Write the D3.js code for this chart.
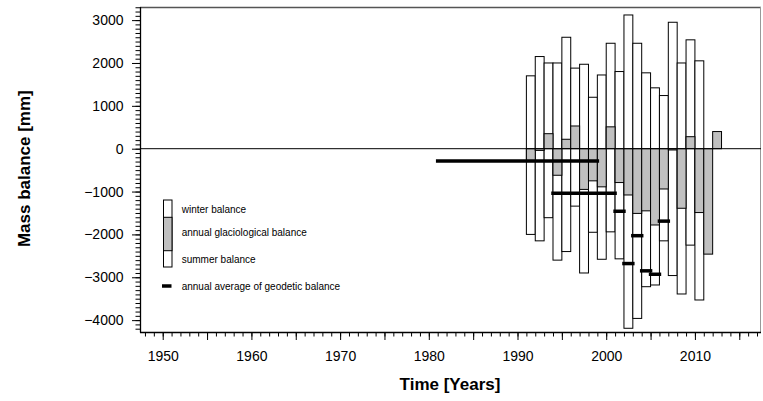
<!DOCTYPE html>
<html>
<head>
<meta charset="utf-8">
<script src="https://cdn.jsdelivr.net/npm/d3@7/dist/d3.min.js"></script>
<style>
  html, body { margin: 0; padding: 0; background: #fff; }
  svg { display: block; font-family: "Liberation Sans", Arial, sans-serif; }
</style>
</head>
<body>
<svg id="chart" width="763" height="401"></svg>
<script>
// ---- data ----
const years = [1991,1992,1993,1994,1995,1996,1997,1998,1999,2000,2001,2002,2003,2004,2005,2006,2007,2008,2009,2010,2011,2012];
const winterBalance = [1700,2150,2000,2000,2600,1880,1970,1200,1720,2460,1800,3120,2460,1770,1420,1240,2950,2000,2540,2050,null,null];
const summerBalance = [-2000,-2150,-1610,-2600,-2400,-1340,-2900,-1950,-2580,-1940,-2570,-4190,-3960,-3220,-3180,-2150,-2960,-3390,-2250,-3530,null,null];
const annualBalance = [-300,-40,350,-620,220,530,-950,-750,-890,510,-790,-1080,-1510,-1450,-1780,-940,-30,-1390,280,-1490,-2460,400];
const geodeticStart = [1981,1994,2001,2002,2003,2004,2005,2006];
const geodeticEnd   = [1999,2001,2002,2003,2004,2005,2006,2007];
const geodeticValue = [-290,-1040,-1460,-2680,-2030,-2850,-2930,-1690];
const yTickValues = [-4000,-3000,-2000,-1000,0,1000,2000,3000];
const xLabelValues = [1950,1960,1970,1980,1990,2000,2010];
const legendLabels = ["winter balance","annual glaciological balance","summer balance","annual average of geodetic balance"];

const svg = d3.select("#chart");
const L = 140, R = 761, T = 7, B = 332;

const x = d3.scaleLinear().domain([1947.44, 2017.45]).range([L, R]);
const y = d3.scaleLinear().domain([-4277, 3306]).range([B, T]);

svg.append("rect").attr("width", 763).attr("height", 401).attr("fill", "#fff");

// frame top & right
svg.append("line").attr("x1", L).attr("x2", R).attr("y1", T + 0.5).attr("y2", T + 0.5)
  .attr("stroke", "#555").attr("stroke-width", 1.3);
svg.append("line").attr("x1", R - 0.5).attr("x2", R - 0.5).attr("y1", T).attr("y2", B)
  .attr("stroke", "#999").attr("stroke-width", 1);

const rows = years.map((yr, i) => ({yr, w: winterBalance[i], s: summerBalance[i], a: annualBalance[i]}));

// white bars (summer..winter)
svg.append("g").selectAll("rect").data(rows.filter(d => d.w !== null)).join("rect")
  .attr("x", d => x(d.yr))
  .attr("width", d => x(d.yr + 1) - x(d.yr))
  .attr("y", d => y(d.w))
  .attr("height", d => y(d.s) - y(d.w))
  .attr("fill", "#fff").attr("stroke", "#000").attr("stroke-width", 1);

// gray annual bars
svg.append("g").selectAll("rect").data(rows).join("rect")
  .attr("x", d => x(d.yr))
  .attr("width", d => x(d.yr + 1) - x(d.yr))
  .attr("y", d => y(Math.max(0, d.a)))
  .attr("height", d => Math.abs(y(d.a) - y(0)))
  .attr("fill", "#c0c0c0").attr("stroke", "#000").attr("stroke-width", 1);

// zero line
svg.append("line").attr("x1", L).attr("x2", R).attr("y1", y(0)).attr("y2", y(0))
  .attr("stroke", "#000").attr("stroke-width", 1);

// geodetic lines
svg.append("g").selectAll("line").data(geodeticValue.map((v, i) => ({v, s: geodeticStart[i], e: geodeticEnd[i]}))).join("line")
  .attr("x1", d => x(d.s)).attr("x2", d => x(d.e))
  .attr("y1", d => y(d.v)).attr("y2", d => y(d.v))
  .attr("stroke", "#000").attr("stroke-width", 3.5).attr("stroke-linecap", "square");

// y axis
const yMinor = d3.range(-4200, 3301, 100);
svg.append("g").attr("transform", `translate(${L},0)`)
  .call(d3.axisLeft(y).tickValues(yMinor).tickSize(4.5).tickSizeOuter(0).tickFormat(""))
  .call(g => g.select(".domain").remove());
const yAx = svg.append("g").attr("transform", `translate(${L},0)`)
  .call(d3.axisLeft(y).tickValues(yTickValues).tickSize(8).tickSizeOuter(0).tickPadding(8.5).tickFormat(d3.format("d")))
  .call(g => g.select(".domain").remove());
yAx.selectAll("text").attr("font-size", 14).attr("font-family", "Liberation Sans, Arial, sans-serif").attr("fill", "#000");

// x axis
const xMinor = d3.range(1948, 2018, 1);
const xMajor = d3.range(1950, 2018, 5);
svg.append("g").attr("transform", `translate(0,${B})`)
  .call(d3.axisBottom(x).tickValues(xMinor).tickSize(4.5).tickSizeOuter(0).tickFormat(""))
  .call(g => g.select(".domain").remove());
svg.append("g").attr("transform", `translate(0,${B})`)
  .call(d3.axisBottom(x).tickValues(xMajor).tickSize(8).tickSizeOuter(0).tickFormat(""))
  .call(g => g.select(".domain").remove());
const xAx = svg.append("g").attr("transform", `translate(0,${B})`)
  .call(d3.axisBottom(x).tickValues(xLabelValues).tickSize(0).tickSizeOuter(0).tickPadding(19).tickFormat(d3.format("d")))
  .call(g => g.select(".domain").remove());
xAx.selectAll("text").attr("font-size", 14).attr("font-family", "Liberation Sans, Arial, sans-serif").attr("fill", "#000");

// axis lines
svg.append("line").attr("x1", L + 0.5).attr("x2", L + 0.5).attr("y1", T).attr("y2", B + 0.5)
  .attr("stroke", "#000").attr("stroke-width", 1.3);
svg.append("line").attr("x1", L).attr("x2", R).attr("y1", B + 0.5).attr("y2", B + 0.5)
  .attr("stroke", "#000").attr("stroke-width", 1.3);

// titles
svg.append("text").attr("x", 450).attr("y", 390).attr("text-anchor", "middle")
  .attr("font-size", 17).attr("font-weight", "bold").text("Time [Years]");
svg.append("text").attr("transform", "translate(29.5,168.7) rotate(-90)").attr("text-anchor", "middle")
  .attr("font-size", 17).attr("font-weight", "bold").text("Mass balance [mm]");

// legend
const lg = svg.append("g");
lg.append("rect").attr("x", 163.5).attr("y", 200).attr("width", 8.5).attr("height", 67)
  .attr("fill", "#fff").attr("stroke", "#000").attr("stroke-width", 1);
lg.append("rect").attr("x", 163.5).attr("y", 217.3).attr("width", 8.5).attr("height", 33.4)
  .attr("fill", "#c0c0c0").attr("stroke", "#000").attr("stroke-width", 1);
lg.append("line").attr("x1", 162).attr("x2", 171.5).attr("y1", 286).attr("y2", 286)
  .attr("stroke", "#000").attr("stroke-width", 3.5);
const ly = [209.3, 232.3, 259.3, 286];
lg.selectAll("text.lab").data(legendLabels).join("text").attr("class", "lab")
  .attr("x", 181.7).attr("y", (d, i) => ly[i] + 3.5)
  .attr("font-size", 10).attr("fill", "#000").text(d => d);
</script>
</body>
</html>
